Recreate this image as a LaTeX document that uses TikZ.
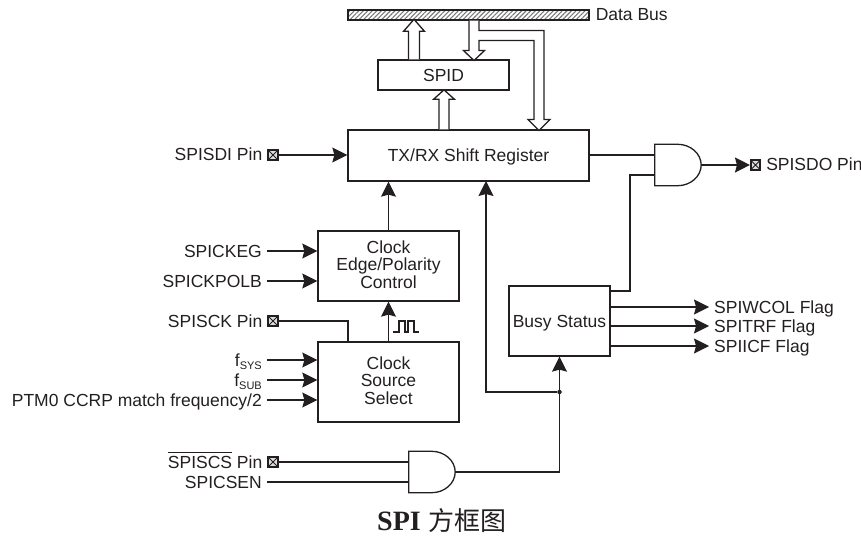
\documentclass[tikz,border=0pt]{standalone}
\usepackage{fontspec}
\setmainfont{Liberation Sans}
\newfontfamily\titlefont{Liberation Serif}
\newfontfamily\cjkfont{Noto Sans CJK SC}
\usepackage{xcolor}
\usepackage{tikz}
\usetikzlibrary{arrows.meta, positioning, patterns.meta, calc}
\definecolor{ink}{HTML}{231F20}
\tikzset{
  regbox/.style  ={draw=ink, line width=1.3pt, align=center, inner sep=0pt,
                   font=\fontsize{17.5}{17.6}\selectfont, text=ink, text depth=0pt},
  stackbox/.style={regbox, text depth=3pt},
  busbar/.style  ={draw=ink, line width=1.3pt,
                   pattern={Lines[angle=45,distance=3.2pt,line width=1.1pt]},
                   pattern color=ink!60},
  pinbox/.style  ={draw=ink, line width=1.6pt, minimum size=9.5pt, inner sep=0pt,
                   fill=ink!15, path picture={
                     \draw[ink, line width=1pt]
                       (path picture bounding box.north west) -- (path picture bounding box.south east)
                       (path picture bounding box.north east) -- (path picture bounding box.south west);}},
  sig/.style     ={font=\fontsize{17.5}{18}\selectfont, text=ink, inner ysep=0pt, inner xsep=5pt,
                   text height=12pt, text depth=0pt},
  flow/.style    ={-{Stealth[length=15pt,width=15pt,inset=2pt]}, draw=ink, line width=1.3pt},
  wire/.style    ={draw=ink, line width=1.3pt},
  hollow/.style  ={draw=ink, line width=1.3pt, fill=white, line join=miter},
  andgate/.style ={minimum width=46pt, minimum height=41pt, inner sep=0pt},
  dot/.style     ={circle, fill=ink, inner sep=0pt, minimum size=4.5pt}
}
\newcommand{\andoutline}[1]{%
  \draw[wire] (#1.north west) -- ++(23,0)
    .. controls +(12.7,0) and ($(#1.east)+(0,-11.3)$) .. (#1.east)
    .. controls +(0,11.3) and ($(#1.south west)+(35.7,0)$) .. ($(#1.south west)+(23,0)$)
    -- (#1.south west) -- cycle;}
\begin{document}
\begin{tikzpicture}[x=1pt, y=-1pt]
  \useasboundingbox (0,0) rectangle (861,537);

  % Data bus and registers
  \node[busbar, minimum width=241pt, minimum height=10pt, inner sep=0pt] (bus) at (468.5,15) {};
  \node[sig, inner xsep=0pt, right=6pt of bus] (buslabel) {Data Bus};
  \node[regbox, minimum width=131pt, minimum height=30pt] (spid) at (443.5,75) {SPID};
  \node[regbox, minimum width=241pt, minimum height=51pt] (shift) at (468.5,155.5) {TX/RX Shift Register};

  % Clock blocks
  \node[stackbox, minimum width=141pt, minimum height=70pt] (clkedge) at (388.5,266) {Clock\\Edge/Polarity\\Control};
  \node[stackbox, minimum width=141pt, minimum height=80pt] (clksrc) at (388.5,382) {Clock\\Source\\Select};
  \node[regbox, minimum width=101pt, minimum height=70pt] (busy) at (559.5,321) {Busy Status};

  % Gates
  \node[andgate] (gateout) at (678,165) {};
  \andoutline{gateout}
  \node[andgate] (gatecs) at (432,472) {};
  \andoutline{gatecs}

  % Pins
  \node[pinbox] (pinsdi) at (273,155) {};
  \node[sig, left=0pt of pinsdi] (sdilabel) {SPISDI Pin};
  \node[pinbox] (pinsck) at (273,321) {};
  \node[sig, left=0pt of pinsck] (scklabel) {SPISCK Pin};
  \node[pinbox] (pincs) at (273,462) {};
  \node[sig, left=0pt of pincs] (cslabel) {$\overline{\mbox{\rule{0pt}{14.5pt}SPISCS}}$ Pin};
  \node[pinbox] (pinsdo) at (755.5,165) {};
  \node[sig, right=0pt of pinsdo] (sdolabel) {SPISDO Pin};

  % Input signals
  \node[sig, anchor=east] (ckeg) at (267,251) {SPICKEG};
  \node[sig, anchor=east] (ckpol) at (267,281) {SPICKPOLB};
  \node[sig, anchor=east] (fsys) at (267,360) {f\raisebox{-3pt}{\fontsize{11}{11}\selectfont SYS}};
  \node[sig, anchor=east] (fsub) at (267,380) {f\raisebox{-3pt}{\fontsize{11}{11}\selectfont SUB}};
  \node[sig, anchor=east] (ptm) at (267,400) {PTM0 CCRP match frequency/2};
  \node[sig, anchor=east] (csen) at (267,482) {SPICSEN};

  % Flags
  \node[sig, anchor=west] (wcol) at (709,307) {SPIWCOL Flag};
  \node[sig, anchor=west] (trf) at (709,326) {SPITRF Flag};
  \node[sig, anchor=west] (icf) at (709,346) {SPIICF Flag};

  % Bus arrows
  \draw[hollow] (spid.north -| 414,0) ++(-5.5,0) -- ++(0,-28) -- ++(-5,0) -- ++(10.5,-12)
    -- ++(10.5,12) -- ++(-5,0) -- ++(0,28);
  \draw[hollow] (bus.south -| 474,0) ++(-5,0) -- ++(0,30) -- ++(-5.5,0) -- ++(10.5,10) -- ++(10.5,-10)
    -- ++(-5.5,0) -- ++(0,-10) -- ++(55,0) -- ++(0,79) -- ++(-6,0) -- ++(11,11) -- ++(11,-11)
    -- ++(-6,0) -- ++(0,-89) -- ++(-65,0) -- ++(0,-10);
  \draw[hollow] (shift.north -| 444,0) ++(-5,0) -- ++(0,-30) -- ++(-5.5,0) -- ++(10.5,-9.5)
    -- ++(10.5,9.5) -- ++(-5.5,0) -- ++(0,30);

  % Connectors
  \draw[flow] (pinsdi) -- (shift.west |- pinsdi);
  \draw[wire] (shift.east |- pinsdi) -- (gateout.west |- pinsdi);
  \draw[wire] (busy.east |- 0,291) -| (630,175) -- (gateout.west |- 0,175);
  \draw[flow] (gateout.east) -- (pinsdo.west);
  \draw[flow] (clkedge.north) -- (clkedge.north |- shift.south);
  \draw[flow] (ckeg) -- (clkedge.west |- ckeg);
  \draw[flow] (ckpol) -- (clkedge.west |- ckpol);
  \draw[flow] (clksrc.north) -- (clkedge.south);
  \draw[wire] (pinsck) -| (clksrc.north -| 348,0);
  \draw[flow] (fsys) -- (clksrc.west |- fsys);
  \draw[flow] (fsub) -- (clksrc.west |- fsub);
  \draw[flow] (ptm) -- (clksrc.west |- ptm);
  \draw[wire] (pincs) -- (gatecs.west |- pincs);
  \draw[wire] (csen) -- (gatecs.west |- csen);
  \node[dot] (junction) at (559.5,392) {};
  \draw[wire] (gatecs.east) -| (junction);
  \draw[flow] (junction) -- (busy.south);
  \draw[flow] (junction) -| (486,181);
  \draw[flow] (busy.east |- wcol.west) -- (wcol.west);
  \draw[flow] (busy.east |- trf.west) -- (trf.west);
  \draw[flow] (busy.east |- icf.west) -- (icf.west);

  % Clock pulse
  \draw[wire, line join=miter] (393,332) -- (399,332) -- (399,321) -- (405,321) -- (405,332) -- (408,332)
    -- (408,321) -- (414,321) -- (414,332) -- (419,332);

  % Caption
  \node[text=ink, inner sep=0pt, font=\fontsize{28}{28}\selectfont, anchor=west] (title) at (377,521)
    {{\titlefont\bfseries SPI} {\fontsize{26}{26}\selectfont\cjkfont 方框图}};
\end{tikzpicture}
\end{document}
